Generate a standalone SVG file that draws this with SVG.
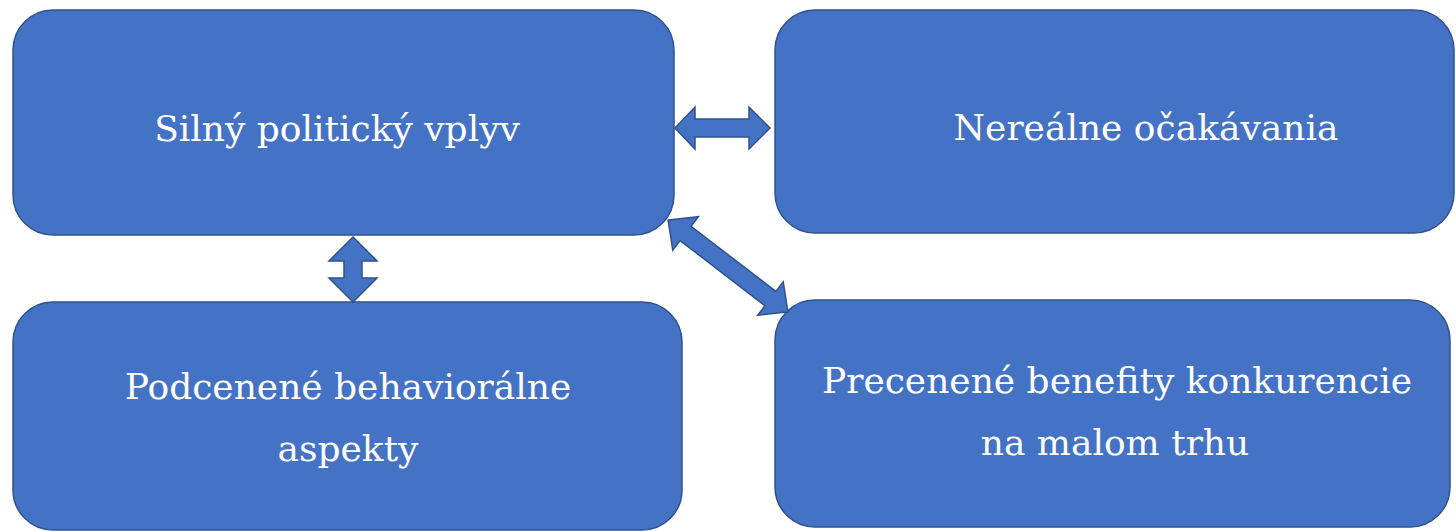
<svg xmlns="http://www.w3.org/2000/svg" width="1456" height="531" viewBox="0 0 1456 531">
<style>
.box{fill:#4472C4;stroke:#2F528F;stroke-width:1.5}
.arr{fill:#4472C4;stroke:#2F528F;stroke-width:1.5;stroke-linejoin:miter}
.t{fill:#ffffff;font-family:"DejaVu Serif","Liberation Serif",serif;font-size:36px;text-anchor:middle}
</style>
<rect width="1456" height="531" fill="#ffffff"/>
<g id="node-silny">
<rect class="box" x="13" y="10" width="661" height="225" rx="40" ry="40"/>
<text class="t" x="337" y="141">Silný politický vplyv</text>
</g>
<g id="node-nerealne">
<rect class="box" x="775" y="10" width="679" height="223" rx="40" ry="40"/>
<text class="t" x="1146" y="140">Nereálne očakávania</text>
</g>
<g id="node-podcenene">
<rect class="box" x="13" y="302" width="669" height="228" rx="40" ry="40"/>
<text class="t" x="348" y="399">Podcenené behaviorálne</text>
<text class="t" x="348" y="461">aspekty</text>
</g>
<g id="node-precenene">
<rect class="box" x="775" y="300" width="675" height="227" rx="40" ry="40"/>
<text class="t" x="1117" y="393">Precenené benefity konkurencie</text>
<text class="t" x="1115" y="455">na malom trhu</text>
</g>
<g id="connectors">
<path class="arr" d="M675,128 L695,107 L695,119 L749,119 L749,107 L770,128 L749,149 L749,137 L695,137 L695,149 Z"/>
<path class="arr" d="M353,237 L377,261 L362,261 L362,278 L377,278 L353,302 L329,278 L344,278 L344,261 L329,261 Z"/>
<path class="arr" transform="translate(728,266) rotate(37.5)" d="M-75.5,0 L-53.5,-21 L-53.5,-9 L53.5,-9 L53.5,-21 L75.5,0 L53.5,21 L53.5,9 L-53.5,9 L-53.5,21 Z"/>
</g>
</svg>
